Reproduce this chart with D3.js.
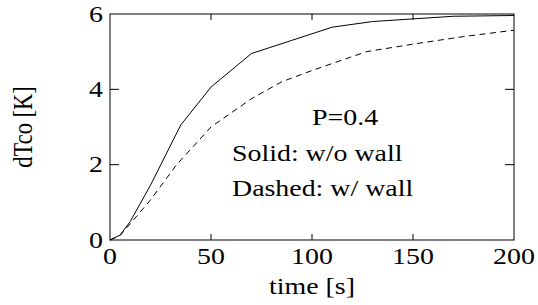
<!DOCTYPE html>
<html><head><meta charset="utf-8">
<script src="https://cdn.jsdelivr.net/npm/d3@7"></script>
<style>body{margin:0;background:#fff}svg{display:block}</style>
</head><body>
<script>
const solidT = [0,5,10,20,35,50,70,90,110,130,150,170,200];
const solidV = [0,0.13,0.49,1.45,3.05,4.06,4.95,5.3,5.65,5.8,5.87,5.94,5.96];
const dashT = [0,5,10,20,33,50,70,85,100,127,150,175,200];
const dashV = [0,0.12,0.43,1.06,2.0,3.0,3.75,4.2,4.5,5.0,5.2,5.4,5.57];
const xTicks = [0,50,100,150,200];
const yTicks = [0,2,4,6];
const annotations = ["P=0.4","Solid: w/o wall","Dashed: w/ wall"];
const xLabel = "time [s]", yLabel = "dTco [K]";

const W=538,H=305, L=110,R=514,T=14,B=240;
const SX=1.24, FS=22.5, FONT="'Liberation Serif','Times New Roman',serif";
const svg=d3.select("body").append("svg").attr("width",W).attr("height",H);
const x=d3.scaleLinear().domain([0,200]).range([L,R]);
const y=d3.scaleLinear().domain([0,6]).range([B,T]);

function txt(px,py,s,anchor,rot){
  const g=svg.append("g").attr("transform",`translate(${px},${py})`+(rot?` scale(${SX},1) rotate(${rot})`:` scale(${SX},1)`));
  g.append("text").attr("text-anchor",anchor).attr("font-family",FONT).attr("font-size",FS).attr("fill","#000").text(s);
}

// frame
svg.append("rect").attr("x",L).attr("y",T).attr("width",R-L).attr("height",B-T).attr("fill","none").attr("stroke","#000").attr("stroke-width",1);
const tk=svg.append("g").attr("stroke","#000").attr("stroke-width",1);
xTicks.slice(1,-1).forEach(v=>{
  tk.append("line").attr("x1",x(v)).attr("x2",x(v)).attr("y1",B).attr("y2",B-6);
  tk.append("line").attr("x1",x(v)).attr("x2",x(v)).attr("y1",T).attr("y2",T+6);
});
yTicks.slice(1,-1).forEach(v=>{
  tk.append("line").attr("x1",L).attr("x2",L+9).attr("y1",y(v)).attr("y2",y(v));
  tk.append("line").attr("x1",R).attr("x2",R-9).attr("y1",y(v)).attr("y2",y(v));
});
xTicks.forEach(v=>txt(x(v),264,String(v),"middle"));
yTicks.forEach(v=>txt(103,y(v)+7.5,String(v),"end"));
txt(312,294,xLabel,"middle");
txt(32,127,yLabel,"middle",-90);

const line=d3.line().x(d=>x(d[0])).y(d=>y(d[1]));
svg.append("path").attr("d",line(solidT.map((t,i)=>[t,solidV[i]]))).attr("fill","none").attr("stroke","#000").attr("stroke-width",1);
svg.append("path").attr("d",line(dashT.map((t,i)=>[t,dashV[i]]))).attr("fill","none").attr("stroke","#000").attr("stroke-width",1).attr("stroke-dasharray","6,4.5");

txt(312,125,annotations[0],"start");
txt(232,161,annotations[1],"start");
txt(232,196,annotations[2],"start");
</script>
</body></html>
